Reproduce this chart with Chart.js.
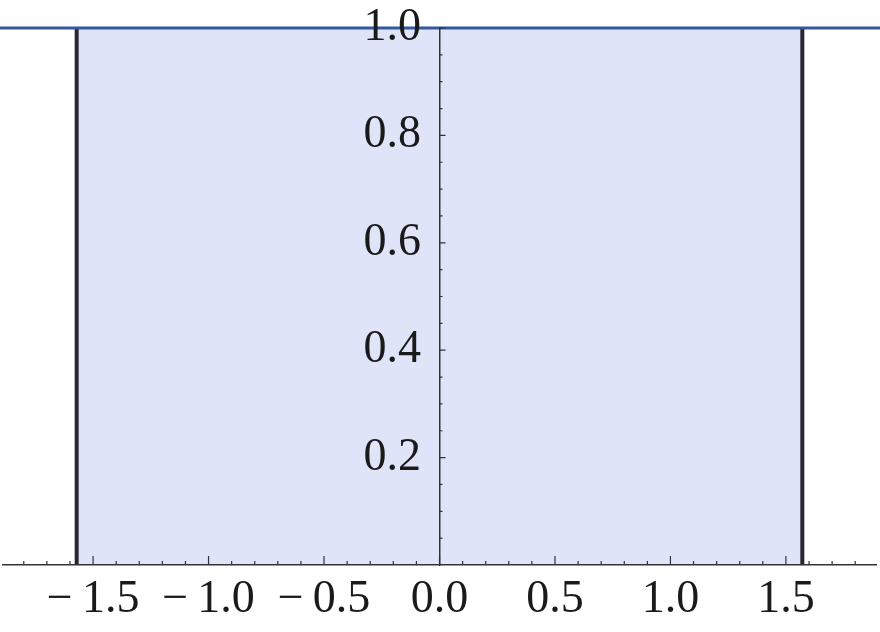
<!DOCTYPE html>
<html>
<head>
<meta charset="utf-8">
<script src="https://cdn.jsdelivr.net/npm/chart.js@4/dist/chart.umd.min.js"></script>
<style>
  html, body { margin: 0; padding: 0; background: #fff; }
  #wrap { width: 880px; height: 632px; }
</style>
</head>
<body>
<div id="wrap"><canvas id="myChart"></canvas></div>
<script>
// plotted values
const xRange = [-1.89, 1.89];
const yRange = [0, 1];
const edgeX = [-1.571, 1.571];      // filling stops at -pi/2 .. pi/2
const levelY = 1;                   // constant value of the curve
const lineX = [-2, 2];              // curve is drawn to the edges of the picture
const xTicks = [-1.5, -1.0, -0.5, 0.0, 0.5, 1.0, 1.5];
const yTicks = [0.2, 0.4, 0.6, 0.8, 1.0];

const fillPts = edgeX.map(x => ({ x: x, y: levelY }));
const linePts = lineX.map(x => ({ x: x, y: levelY }));
const leftEdge = [{ x: edgeX[0], y: 0 }, { x: edgeX[0], y: levelY }];
const rightEdge = [{ x: edgeX[1], y: 0 }, { x: edgeX[1], y: levelY }];

const fmt = v => (v < 0 ? '\u2212\u2009' : '') + Math.abs(v).toFixed(1);

// small mathematica style tick marks
const tickMarks = {
  id: 'tickMarks',
  afterDraw(chart) {
    const ctx = chart.ctx;
    const xs = chart.scales.x, ys = chart.scales.y;
    const y0 = ys.getPixelForValue(0);
    const x0 = xs.getPixelForValue(0);
    ctx.save();
    ctx.strokeStyle = '#333';
    ctx.lineWidth = 1.2;
    ctx.beginPath();
    for (let i = -18; i <= 18; i++) {
      const px = xs.getPixelForValue(i / 10);
      const len = i % 5 === 0 ? 9 : 4;
      ctx.moveTo(px, y0);
      ctx.lineTo(px, y0 - len);
    }
    for (let i = 1; i <= 20; i++) {
      const py = ys.getPixelForValue(i * 0.05);
      const len = i % 4 === 0 ? 6 : 3;
      ctx.moveTo(x0, py);
      ctx.lineTo(x0 + len, py);
    }
    ctx.stroke();
    ctx.restore();
  }
};

const config = {
  type: 'scatter',
  data: {
    datasets: [
      {
        data: linePts, showLine: true, borderColor: '#34579f', borderWidth: 3,
        pointRadius: 0, clip: false, order: 0
      },
      {
        data: leftEdge, showLine: true, borderColor: '#2a2530', borderWidth: 4,
        pointRadius: 0, clip: false, order: 1
      },
      {
        data: rightEdge, showLine: true, borderColor: '#2a2530', borderWidth: 4,
        pointRadius: 0, clip: false, order: 1
      },
      {
        data: fillPts, showLine: true, borderWidth: 0, borderColor: 'rgba(0,0,0,0)',
        backgroundColor: '#e0e4f9', fill: 'origin', pointRadius: 0, order: 2
      }
    ]
  },
  options: {
    responsive: true,
    maintainAspectRatio: false,
    animation: false,
    layout: { padding: { top: 28, left: 3, right: 4, bottom: 0 } },
    plugins: { legend: { display: false }, tooltip: { enabled: false } },
    scales: {
      x: {
        type: 'linear', min: xRange[0], max: xRange[1],
        afterBuildTicks: s => { s.ticks = xTicks.map(v => ({ value: v })); },
        afterFit: s => { s.height = 67; },
        grid: { display: true, color: 'rgba(0,0,0,0)', drawOnChartArea: false, drawTicks: true, tickLength: 6, z: 1 },
        border: { display: true, color: '#333', width: 1.5, z: 1 },
        ticks: {
          autoSkip: false, maxRotation: 0, padding: 1, color: '#1a1a1a', z: 1,
          font: { family: 'Liberation Serif', size: 46 },
          callback: v => fmt(v)
        }
      },
      y: {
        type: 'linear', min: yRange[0], max: yRange[1],
        position: { x: 0 },
        afterBuildTicks: s => { s.ticks = yTicks.map(v => ({ value: v })); },
        grid: { display: true, color: 'rgba(0,0,0,0)', drawOnChartArea: false, drawTicks: true, tickLength: 20, z: 1 },
        border: { display: true, color: '#333', width: 1.5, z: 1 },
        ticks: {
          autoSkip: false, padding: 0, color: '#1a1a1a', z: 1,
          font: { family: 'Liberation Serif', size: 46 },
          callback: v => fmt(v) + '\u2009\u2009'
        }
      }
    }
  },
  plugins: [tickMarks]
};

const myChart = new Chart(document.getElementById('myChart'), config);
</script>
</body>
</html>
